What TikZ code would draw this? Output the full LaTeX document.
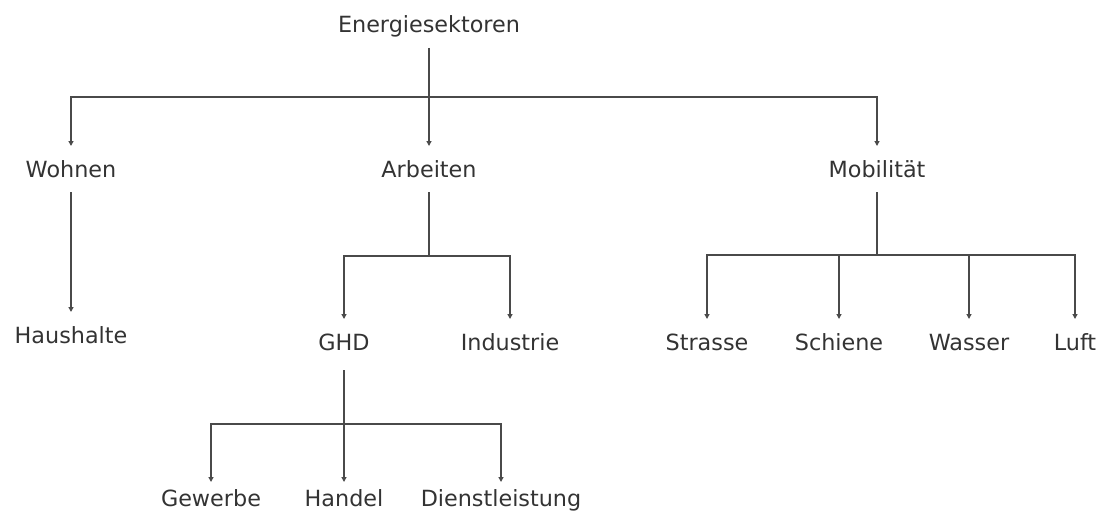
\documentclass[tikz,border=0pt]{standalone}
\usepackage{fontspec}
\setmainfont{DejaVu Sans}
\usetikzlibrary{arrows.meta}
\definecolor{txt}{HTML}{333333}
\definecolor{lin}{HTML}{4A4A4A}
\begin{document}
\begin{tikzpicture}[x=1pt,y=-1pt,
  lbl/.style={anchor=base, inner sep=0pt, outer xsep=0pt, outer ysep=14pt,
    text height=17pt, text depth=1pt, text=txt,
    font=\fontsize{22.3}{26}\selectfont},
  lowlbl/.style={lbl, text height=10pt},
  parentlbl/.style={lbl, text depth=6pt},
  ln/.style={draw=lin, line width=1.4pt},
  arr/.style={ln, -{Triangle[width=5pt,length=5pt]}}]
\useasboundingbox (0,0) rectangle (1100,519);
% nodes
\node[lbl] (E) at (429,33) {Energiesektoren};
\node[lbl] (wo) at (71,177) {Wohnen};
\node[lbl] (ar) at (429,177) {Arbeiten};
\node[lbl] (mo) at (877,177) {Mobilität};
\node[lbl] (ha) at (71,343) {Haushalte};
\node[parentlbl] (ghd) at (344,350) {GHD};
\node[lbl] (in) at (510,350) {Industrie};
\node[lbl] (st) at (707,350) {Strasse};
\node[lbl] (sc) at (839,350) {Schiene};
\node[lbl] (wa) at (969,350) {Wasser};
\node[lbl] (lu) at (1075,350) {Luft};
\node[lowlbl] (ge) at (211,506) {Gewerbe};
\node[lowlbl] (hd) at (344,506) {Handel};
\node[lowlbl] (di) at (501,506) {Dienstleistung};
% junctions
\coordinate (j0) at (429,97);
\coordinate (j1) at (429,256);
\coordinate (j2) at (877,255);
\coordinate (j3) at (344,424);
% connectors
\draw[arr] (E.south) -- (ar.north);
\draw[arr] (j0) -| (wo.north);
\draw[arr] (j0) -| (mo.north);
\draw[arr] (wo.south) -- (ha.north);
\draw[ln] (ar.south) -- (j1);
\draw[arr] (j1) -| (ghd.north);
\draw[arr] (j1) -| (in.north);
\draw[ln] (mo.south) -- (j2);
\draw[arr] (j2) -| (st.north);
\draw[arr] (j2) -| (sc.north);
\draw[arr] (j2) -| (wa.north);
\draw[arr] (j2) -| (lu.north);
\draw[arr] (ghd.south) -- (hd.north);
\draw[arr] (j3) -| (ge.north);
\draw[arr] (j3) -| (di.north);
\end{tikzpicture}
\end{document}
